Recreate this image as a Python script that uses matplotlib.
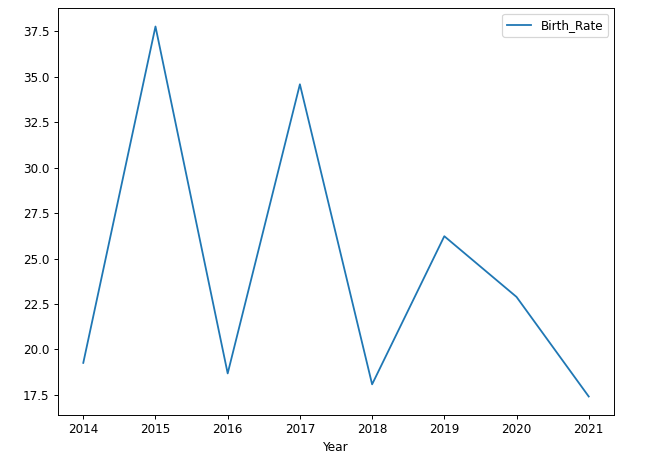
import matplotlib
matplotlib.use("Agg")
import matplotlib.pyplot as plt

years = [2014, 2015, 2016, 2017, 2018, 2019, 2020, 2021]
birth_rate = [19.26, 37.77, 18.68, 34.59, 18.08, 26.23, 22.89, 17.41]

DPI = 86.4
W, H = 647, 463
fig = plt.figure(figsize=(W / DPI, H / DPI), dpi=DPI)
ax = fig.add_axes([58 / W, 48 / H, (614 - 58) / W, (415 - 8) / H])
ax.plot(years, birth_rate, color="#1f77b4", label="Birth_Rate")
ax.set_xlabel("Year")
ax.legend(loc="upper right")
fig.savefig("out.png", dpi=DPI)
